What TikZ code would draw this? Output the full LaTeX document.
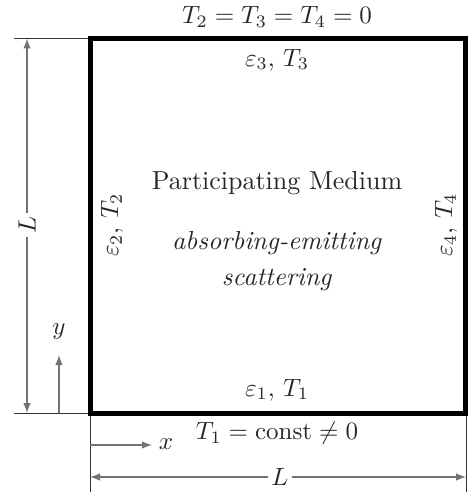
\documentclass[tikz,border=0pt]{standalone}
\usetikzlibrary{arrows.meta}
\begin{document}
\begin{tikzpicture}[x=0.4pt,y=-0.4pt,
  dim/.style={draw=black!55,line width=0.5pt},
  arr/.style={dim,-{Latex[length=4pt,width=3pt]}},
  ext/.style={draw=black!80,line width=0.4pt},
  lbl/.style={inner sep=1pt,text=black!85,font=\fontsize{10.4}{12.5}\selectfont},
  box/.style={draw=black,line width=2pt}]
\useasboundingbox (0,0) rectangle (468,492);
\coordinate (A) at (90,38.5);
\coordinate (B) at (465,38.5);
\coordinate (C) at (465,413);
\coordinate (D) at (90,413);
% extension lines
\coordinate (e1) at (14,38.5);
\coordinate (e2) at (14,413);
\coordinate (e3) at (90,492);
\coordinate (e4) at (466,492);
\coordinate (e4t) at (466,413);
\draw[ext] (e1) -- (A);
\draw[ext] (e2) -- (D);
\draw[ext] (D) -- (e3);
\draw[ext] (e4t) -- (e4);
% left dimension
\coordinate (l1) at (27,38.5);
\coordinate (l2) at (27,413);
\node[lbl,fill=white,rotate=90] (LL) at (27,225) {$L$};
\draw[arr] (LL) -- (l1);
\draw[arr] (LL) -- (l2);
% bottom dimension
\coordinate (b1) at (90,477);
\coordinate (b2) at (466,477);
\node[lbl,fill=white] (LB) at (280,477) {$L$};
\draw[arr] (LB) -- (b1);
\draw[arr] (LB) -- (b2);
% axes
\coordinate (y0) at (59,413);
\coordinate (y1) at (59,355);
\draw[arr] (y0) -- (y1);
\node[lbl] (yl) at (59,332) {$y$};
\coordinate (x0) at (90,445);
\coordinate (x1) at (152,445);
\draw[arr] (x0) -- (x1);
\node[lbl] (xl) at (166,444) {$x$};
% box
\draw[box] (A) rectangle (C);
% texts
\node[lbl] (top) at (277,17) {$T_2=T_3=T_4=0$};
\node[lbl] (e3t) at (277,60) {$\varepsilon_3,\,T_3$};
\node[lbl] (pm) at (277,183) {Participating Medium};
\node[lbl,align=center] (ae) at (277,261) {\textit{absorbing-emitting}\\[2pt]\textit{scattering}};
\node[lbl] (e1t) at (277,390) {$\varepsilon_1,\,T_1$};
\node[lbl] (bot) at (277,433) {$T_1=\mathrm{const}\neq 0$};
\node[lbl,rotate=90] (e2t) at (112,225) {$\varepsilon_2,\,T_2$};
\node[lbl,rotate=90] (e4t2) at (446,225) {$\varepsilon_4,\,T_4$};
\end{tikzpicture}
\end{document}
